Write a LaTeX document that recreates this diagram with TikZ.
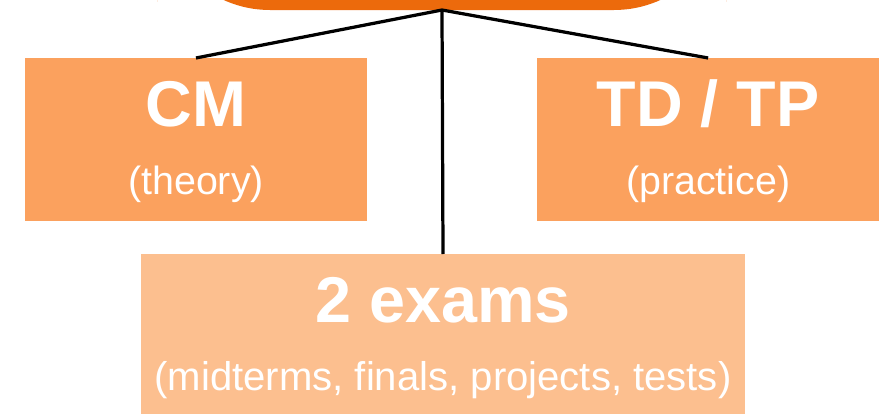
\documentclass[tikz,border=0pt]{standalone}
\usepackage{fontspec}
\setmainfont{Liberation Sans}
\usepackage{xcolor}
\usetikzlibrary{positioning}

\definecolor{toporange}{RGB}{236,106,12}
\definecolor{boxorange}{RGB}{251,161,94}
\definecolor{examorange}{RGB}{252,191,143}

\begin{document}
\begin{tikzpicture}[x=0.025cm,y=-0.025cm]
        % Styles: boxes and the white texts inside them
        \tikzstyle{box} = [
            fill=boxorange,
            minimum width=8.55cm,
            minimum height=4.075cm,
            inner sep=0pt,
            outer sep=0pt
        ]
        \tikzstyle{title} = [text=white, anchor=base, inner sep=0pt, font=\bfseries\fontsize{46}{52}\selectfont]
        \tikzstyle{subtitle} = [text=white, anchor=base, inner sep=0pt, font=\fontsize{28}{33}\selectfont]

        \clip (0,0) rectangle (890,414);

        % The course block at the top (mostly cut off)
        \node[fill=toporange, rounded corners=2.8cm, minimum width=14.2cm, minimum height=3cm,
              inner sep=0pt, outer sep=0pt, anchor=south] (course) at (442,10) {};

        % Two boxes side by side
        \node[box] (cm) at (196,139.5) {};
        \node[box, right=4.25cm of cm] (tdtp) {};

        % Exams box below
        \node[box, fill=examorange, minimum width=15.1cm, minimum height=4.2cm, anchor=north] (exams) at (443,254) {};

        % Connectors
        \draw[line width=2.3pt] (course.south) -- (cm.north);
        \draw[line width=2.3pt] (course.south) -- (tdtp.north);
        \draw[line width=2.3pt] (course.south) -- (exams.north);

        % Texts
        \node[title] (cmtitle) at ([yshift=-1.725cm]cm.north) {CM};
        \node[subtitle] (cmsub) at ([yshift=-3.4cm]cm.north) {(theory)};
        \node[title] (tdtitle) at ([yshift=-1.725cm]tdtp.north) {TD / TP};
        \node[subtitle] (tdsub) at ([yshift=-3.4cm]tdtp.north) {(practice)};
        \node[title] (examtitle) at ([yshift=-1.7cm]exams.north) {2 exams};
        \node[subtitle, font=\fontsize{28.5}{33}\selectfont] (examsub) at ([yshift=-3.4cm]exams.north) {(midterms, finals, projects, tests)};

\end{tikzpicture}
\end{document}
